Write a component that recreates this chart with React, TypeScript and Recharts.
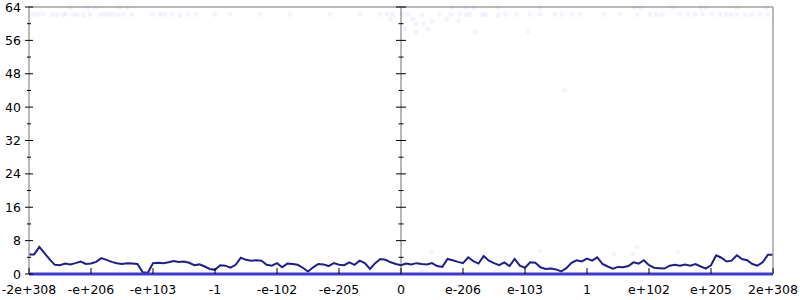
import React from 'react';
import { ComposedChart, Line, Scatter, XAxis, YAxis, ReferenceLine } from 'recharts';

// x positions are sample indices 0..144, labelled every 12 samples
const xTickIdx = [0, 12, 24, 36, 48, 60, 72, 84, 96, 108, 120, 132, 144];
const xTickLabels = ['-2e+308', '-e+206', '-e+103', '-1', '-e-102', '-e-205', '0', 'e-206', 'e-103', '1', 'e+102', 'e+205', '2e+308'];
const yTicks = [0, 4, 8, 12, 16, 20, 24, 28, 32, 36, 40, 44, 48, 52, 56, 60, 64];

const walk = [
  4.7, 4.7, 6.5, 5.0, 3.5, 2.2, 2.1, 2.5, 2.3, 2.6, 3.0, 2.4, 2.5, 2.9, 3.8, 3.4, 2.9, 2.6, 2.4, 2.6,
  2.5, 2.4, 0.4, 0.3, 2.6, 2.7, 2.6, 2.8, 3.1, 2.9, 3.0, 2.7, 2.1, 2.3, 1.8, 1.2, 1.0, 2.1, 2.0, 1.5,
  2.2, 3.9, 3.4, 3.2, 3.3, 3.2, 2.2, 2.0, 2.6, 1.6, 2.5, 2.4, 2.2, 1.5, 0.6, 1.6, 2.4, 2.3, 1.9, 2.6,
  2.2, 2.1, 2.8, 2.2, 3.2, 2.6, 1.2, 2.6, 3.6, 3.4, 2.8, 2.4, 2.1, 2.5, 2.3, 2.6, 2.4, 2.3, 2.6, 1.9,
  1.7, 3.6, 3.3, 2.9, 2.6, 4.0, 3.1, 2.5, 4.3, 3.2, 2.6, 2.1, 2.8, 1.9, 3.6, 2.0, 1.5, 2.8, 2.7, 1.6,
  1.2, 1.3, 1.1, 0.6, 1.4, 2.7, 3.3, 3.0, 3.7, 3.2, 4.0, 2.4, 1.8, 1.3, 1.7, 1.6, 1.9, 2.8, 2.5, 3.3,
  2.1, 1.5, 1.4, 1.3, 2.0, 2.2, 2.0, 2.3, 2.0, 2.4, 1.8, 1.3, 2.1, 4.5, 3.9, 3.0, 3.2, 4.5, 3.6, 3.3,
  2.4, 2.0, 2.8, 4.6, 4.6,
];

// faint outlier dots
const dotX = [
  0.8, 1.7, 2.7, 4.5, 5.4, 6.6, 7.2, 8.5, 9.3, 10.5, 11.8, 13.7, 14.5, 15.3, 16.1, 17.2, 18.2, 19.9,
  24.0, 25.4, 26.3, 27.7, 29.2, 30.8, 32.3, 36.0, 38.9, 44.7, 50.5, 58.3, 64.1, 67.9, 69.3, 70.4,
  72.2, 73.3, 76.1, 79.5, 81.7, 83.4, 84.6, 85.3, 87.7, 88.4, 90.8, 92.3, 94.4, 97.0, 98.9, 101.8,
  103.1, 105.1, 106.6, 111.3, 114.4, 117.7, 120.2, 121.4, 122.5, 126.0, 127.5, 128.9, 130.4, 132.2,
  133.7, 134.9, 135.9, 137.0, 138.6, 139.9, 141.5, 143.0,
  8.0, 11.4, 12.8, 17.6, 19.0, 82.0, 84.6, 86.2, 90.8, 98.9, 117.3, 118.3, 124.6, 130.0, 131.0, 137.0, 142.6,
  69.9, 74.3, 76.4, 78.0, 80.9, 83.2, 74.9, 74.9, 77.2, 86.3, 96.6, 72.8, 103.7,
  77.8, 76.1, 98.9, 101.2, 113.2, 117.7, 116.9, 125.6,
];
const dotY = [
  62.2, 62.2, 62.3, 62.2, 62.1, 62.2, 62.3, 62.2, 62.2, 62.1, 62.2, 62.2, 62.3, 62.2, 62.2, 62.1, 62.2, 62.2,
  62.2, 62.3, 62.2, 62.2, 62.1, 62.2, 62.2, 62.2, 62.3, 62.2, 62.2, 62.2, 62.2, 62.2, 62.3, 62.2,
  62.2, 62.2, 62.1, 62.2, 62.2, 62.3, 62.2, 62.2, 62.2, 62.2, 62.1, 62.2, 62.2, 62.2, 62.3, 62.2,
  62.2, 62.2, 62.2, 62.2, 62.3, 62.2, 62.2, 62.2, 62.1, 62.2, 62.2, 62.2, 62.3, 62.2,
  62.2, 62.2, 62.2, 62.2, 62.1, 62.2, 62.2, 62.2,
  63.9, 63.9, 63.9, 63.9, 63.9, 63.9, 63.9, 63.9, 63.9, 63.9, 63.9, 63.9, 63.9, 63.9, 63.9, 63.9, 63.9,
  61.1, 61.1, 60.0, 60.6, 61.1, 60.6, 60.0, 58.0, 58.7, 58.0, 58.2, 58.7, 44.0,
  5.3, 0.7, 5.5, 1.7, 4.8, 6.5, 4.8, 5.3,
];

const lineData = walk.map((v, i) => ({ i, v }));
const dotData = dotX.map((x, k) => ({ i: x, v: dotY[k] }));

const FONT = 'DejaVu Sans, sans-serif';
const AXIS = '#a0a0a0';

const LeftTick = (p: any) => {
  const { x, y, payload } = p;
  const major = payload.value % 8 === 0;
  const h = major ? 4 : 2;
  return (
    <g>
      <line x1={x - h} x2={x + h} y1={y} y2={y} stroke="#000" />
      {major && (
        <text x={x - 8} y={y + 4.5} textAnchor="end" fontSize={12.5} fontFamily={FONT} fill="#000">
          {payload.value}
        </text>
      )}
    </g>
  );
};

const RightTick = (p: any) => {
  const { x, y, payload } = p;
  const h = payload.value % 8 === 0 ? 5 : 2.5;
  return <line x1={x - h} x2={x + h} y1={y} y2={y} stroke="#000" />;
};

const BottomTick = (p: any) => {
  const { x, y, payload } = p;
  const k = xTickIdx.indexOf(payload.value);
  return (
    <g>
      <line x1={x} x2={x} y1={y - 6} y2={y} stroke="#000" />
      <text x={x} y={y + 20} textAnchor="middle" fontSize={12.5} fontFamily={FONT} fill="#000">
        {xTickLabels[k]}
      </text>
    </g>
  );
};

// center axis: vertical line with ticks on both sides
const CenterAxis = (p: any) => {
  const { x1, y1, y2 } = p;
  const top = Math.min(y1, y2);
  const bot = Math.max(y1, y2);
  return (
    <g>
      <line x1={x1} x2={x1} y1={top} y2={bot} stroke={AXIS} strokeWidth={1.5} />
      {yTicks.map((t) => {
        const yy = bot - (t / 64) * (bot - top);
        const h = t % 8 === 0 ? 5 : 2.5;
        return <line key={t} x1={x1 - h} x2={x1 + h} y1={yy} y2={yy} stroke="#000" />;
      })}
    </g>
  );
};

const Dot = (p: any) => (
  <circle cx={p.cx} cy={p.cy} r={2.5} fill="#5050e0" fillOpacity={0.07} />
);

export default function App() {
  return (
    <div style={{ position: 'absolute', left: 0, top: 0, background: '#fff' }}>
      <ComposedChart width={800} height={300} margin={{ top: 7, right: 0, left: 0, bottom: 0 }}>
        <XAxis
          type="number"
          dataKey="i"
          domain={[0, 144]}
          ticks={xTickIdx}
          interval={0}
          height={26}
          axisLine={false}
          tickLine={false}
          tickSize={0}
          tickMargin={0}
          tick={BottomTick}
          allowDataOverflow
        />
        <YAxis
          domain={[0, 64]}
          ticks={yTicks}
          interval={0}
          width={29}
          axisLine={{ stroke: AXIS, strokeWidth: 1.5 }}
          tickLine={false}
          tickSize={0}
          tickMargin={0}
          tick={LeftTick}
        />
        <YAxis
          yAxisId="r"
          orientation="right"
          domain={[0, 64]}
          ticks={yTicks}
          interval={0}
          width={27}
          axisLine={{ stroke: AXIS, strokeWidth: 1.5 }}
          tickLine={false}
          tickSize={0}
          tickMargin={0}
          tick={RightTick}
        />
        <ReferenceLine y={64} stroke={AXIS} strokeWidth={1.5} />
        <ReferenceLine x={72} shape={CenterAxis} />
        <Scatter data={dotData} dataKey="v" shape={Dot} isAnimationActive={false} />
        <Line
          data={lineData}
          dataKey="v"
          type="linear"
          stroke="#1f1f8c"
          strokeWidth={2}
          dot={false}
          isAnimationActive={false}
        />
        <ReferenceLine y={0} stroke="#3a3ad8" strokeWidth={3} />
      </ComposedChart>
    </div>
  );
}
